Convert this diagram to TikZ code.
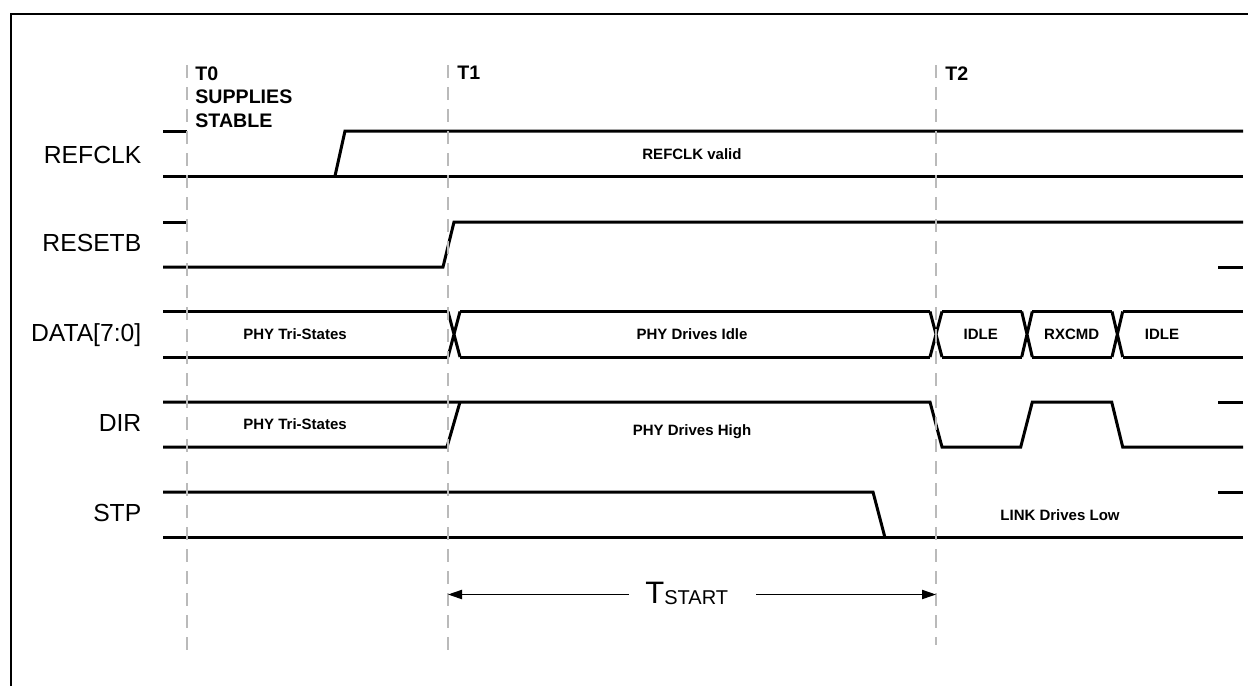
\documentclass[tikz,border=0pt]{standalone}
\usepackage{fontspec}
\setmainfont{Liberation Sans}
\usetikzlibrary{arrows.meta}
\begin{document}
\begin{tikzpicture}[x=0.5pt,y=-0.5pt,
  sig/.style={line width=1.5pt, line join=miter},
  frameline/.style={line width=1.2pt},
  guide/.style={draw=black!27, line width=1.1pt, dash pattern=on 6.5pt off 4.5pt},
  signame/.style={anchor=base east, inner sep=0pt, font=\fontsize{12.35}{14}\selectfont},
  stlabel/.style={anchor=base, inner sep=0pt, font=\bfseries\fontsize{7.5}{9}\selectfont},
  tlabel/.style={anchor=north west, inner sep=0pt, align=left, font=\bfseries\fontsize{9.8}{11.8}\selectfont},
  dim/.style={line width=0.7pt, -{Triangle[length=7pt,width=4.6pt]}}]
\useasboundingbox (0,0) rectangle (1248,686);
% frame
\draw[frameline] (11,686) -- (11,14) -- (1248,14);
% signals
% REFCLK
\draw[sig] (163,131) -- (187,131);
\draw[sig] (163,176) -- (1243,176);
\draw[sig] (335,176) -- (345,131) -- (1243,131);
% RESETB
\draw[sig] (163,222) -- (187,222);
\draw[sig] (163,267) -- (443,267) -- (454,222) -- (1243,222);
\draw[sig] (1218,267) -- (1243,267);
% DATA
\foreach \a/\b in {163/448, 460/930, 942/1021.7, 1032.3/1112, 1122.7/1243}
  \draw[sig] (\a,311.5) -- (\b,311.5) (\a,357) -- (\b,357);
\foreach \a/\b in {448/460, 930/942, 1021.7/1032.3, 1112/1122.7}
  \draw[sig] (\a,311.5) -- (\b,357) (\a,357) -- (\b,311.5);
% DIR
\draw[sig] (163,402) -- (930,402) -- (942,447) -- (1020.7,447) -- (1032.3,402) -- (1111.7,402) -- (1122.7,447) -- (1243,447);
\draw[sig] (163,447) -- (447,447) -- (460,402);
\draw[sig] (1218,402) -- (1243,402);
% STP
\draw[sig] (163,492) -- (873,492) -- (885,537.7);
\draw[sig] (163,537.7) -- (1243,537.7);
\draw[sig] (1218,492) -- (1243,492);
% guides
\draw[guide] (187,65) -- (187,653);
\draw[guide] (448,65) -- (448,653);
\draw[guide] (936,65) -- (936,645);
% time labels
\node[tlabel] (t0) at (195,66) {T0\\SUPPLIES\\STABLE};
\node[tlabel] (t1) at (457,66) {T1};
\node[tlabel] (t2) at (945,66) {T2};
% signal names
\node[signame] (nrefclk) at (141.7,163.3) {REFCLK};
\node[signame] (nresetb) at (141.7,251.7) {RESETB};
\node[signame] (ndata) at (141.7,341.7) {DATA[7:0]};
\node[signame] (ndir) at (141.7,431.7) {DIR};
\node[signame] (nstp) at (141.7,521.7) {STP};
% state labels
\node[stlabel] (lrefv) at (692,159.3) {REFCLK valid};
\node[stlabel] (ltri1) at (295,339.3) {PHY Tri-States};
\node[stlabel] (lidle) at (692,339) {PHY Drives Idle};
\node[stlabel] (lidle1) at (980.7,339.3) {IDLE};
\node[stlabel] (lrxcmd) at (1071.7,339.3) {RXCMD};
\node[stlabel] (lidle2) at (1162,339.3) {IDLE};
\node[stlabel] (ltri2) at (295,429.3) {PHY Tri-States};
\node[stlabel] (lhigh) at (692,435) {PHY Drives High};
\node[stlabel] (llow) at (1060,520) {LINK Drives Low};
% Tstart
\node[anchor=base west, inner sep=0pt] (ts) at (645,603)
  {\fontsize{15.5}{18}\selectfont T\raisebox{-0.9pt}{\fontsize{10}{12}\selectfont START}};
\coordinate (arrL) at (448,594.5);
\coordinate (arrR) at (936,594.5);
\coordinate (gapL) at (628.6,594.5);
\coordinate (gapR) at (756,594.5);
\draw[dim] (gapL) -- (arrL);
\draw[dim] (gapR) -- (arrR);
\end{tikzpicture}
\end{document}
